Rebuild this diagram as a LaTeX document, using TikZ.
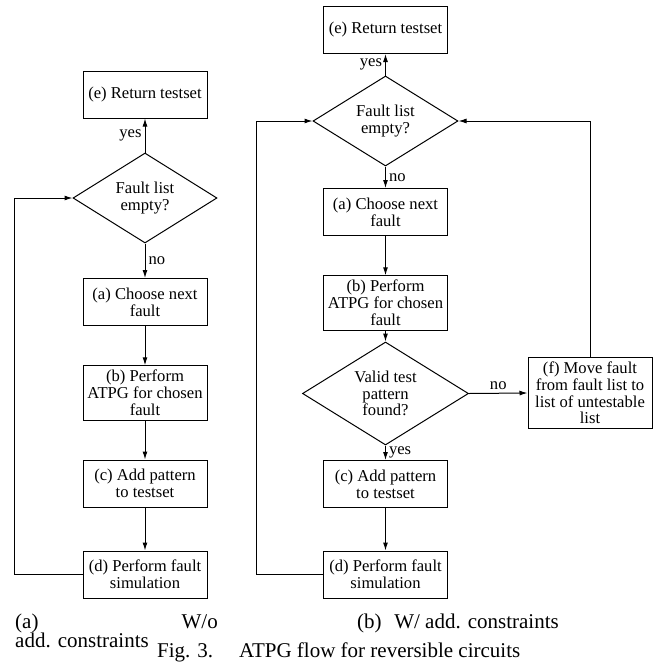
\documentclass[tikz,border=0pt]{standalone}
\usepackage{fontspec}
\setmainfont{Liberation Serif}
\usetikzlibrary{shapes.geometric,arrows.meta}
\begin{document}
\begin{tikzpicture}[x=1pt,y=-1pt,
  every node/.style={font=\fontsize{16.6}{16.8}\selectfont},
  box/.style={draw,line width=1pt,rectangle,minimum width=124pt,minimum height=47pt,align=center,inner xsep=3pt,inner ysep=4.5pt},
  dec/.style={draw,line width=1pt,diamond,aspect=1.6,inner sep=0pt,align=center},
  arr/.style={line width=1pt,-{Latex[length=8pt,width=5pt]}},
  lbl/.style={inner sep=3pt},
  captxt/.style={font=\fontsize{21}{19}\selectfont,inner sep=0pt}]
\useasboundingbox (0,0) rectangle (665,662);

% ---------- left flow ----------
\node[box] (eL) at (145,94.5) {(e) Return testset};
\node[dec,minimum width=144pt,minimum height=90pt] (qL) at (145,198) {Fault list\\empty?};
\node[box] (aL) at (145,302) {(a) Choose next\\fault};
\node[box] (bL) at (145,393) {(b) Perform\\ATPG for chosen\\fault};
\node[box] (cL) at (145,483.5) {(c) Add pattern\\to testset};
\node[box] (dL) at (145,574.5) {(d) Perform fault\\simulation};
\coordinate (lpL) at (14,574.5);

\draw[arr] (qL.north) -- node[left,lbl] {yes} (eL.south);
\draw[arr] (qL.south) -- node[right,lbl] {no} (aL.north);
\draw[arr] (aL) -- (bL);
\draw[arr] (bL) -- (cL);
\draw[arr] (cL) -- (dL);
\draw[arr] (dL.west) -- (lpL) |- (qL.west);

% ---------- right flow ----------
\node[box] (eR) at (385.5,30) {(e) Return testset};
\node[dec,minimum width=145pt,minimum height=90pt] (qR) at (385.5,121) {Fault list\\empty?};
\node[box] (aR) at (385.5,212) {(a) Choose next\\fault};
\node[box] (bR) at (385.5,303) {(b) Perform\\ATPG for chosen\\fault};
\node[dec,minimum width=166pt,minimum height=103pt] (vR) at (385.5,393.5) {Valid test\\pattern\\found?};
\node[box] (fR) at (590,393) {(f) Move fault\\from fault list to\\list of untestable\\list};
\node[box] (cR) at (385.5,484) {(c) Add pattern\\to testset};
\node[box] (dR) at (385.5,574.5) {(d) Perform fault\\simulation};
\coordinate (lpR) at (256,574.5);

\draw[arr] (qR.north) -- node[left,lbl] {yes} (eR.south);
\draw[arr] (qR.south) -- node[right,lbl] {no} (aR.north);
\draw[arr] (aR) -- (bR);
\draw[arr] (bR.south) -- (vR.north);
\draw[arr] (vR.east) -- node[above,lbl] {no} (fR.west);
\draw[arr] (vR.south) -- node[right,lbl] {yes} (cR.north);
\draw[arr] (cR) -- (dR);
\draw[arr] (dR.west) -- (lpR) |- (qR.west);
\draw[arr] (fR.north) |- (qR.east);

% ---------- captions ----------
\node[captxt,anchor=base west] (capa1) at (15,628) {(a)};
\node[captxt,anchor=base east] (capa2) at (218,628) {W/o};
\node[captxt,anchor=base west] (capa3) at (15,647.5) {add. constraints};
\node[captxt,anchor=base] (capb) at (458,628) {(b)\hspace{0.6em}W/ add. constraints};
\node[captxt,anchor=base west] (fig) at (157,657) {Fig. 3.\hspace{26pt}ATPG flow for reversible circuits};
\end{tikzpicture}
\end{document}
